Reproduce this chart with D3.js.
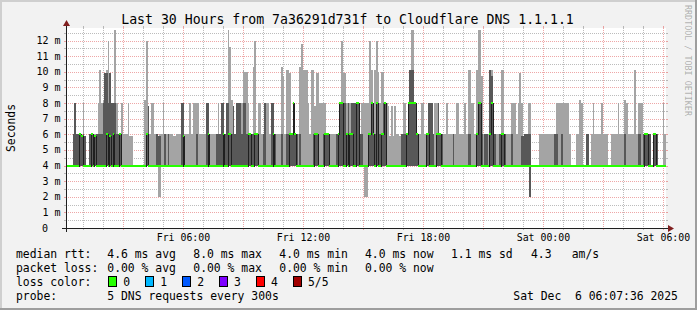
<!DOCTYPE html>
<html>
<head>
<meta charset="utf-8">
<script src="https://cdn.jsdelivr.net/npm/d3@7"></script>
<style>
  html, body { margin: 0; padding: 0; background: #f2f2f2; }
  svg { display: block; }
  text { font-family: "DejaVu Sans Mono", monospace; fill: #000; }
</style>
</head>
<body>
<div id="chart"></div>
<script>
// Five sorted pings per 5 minute step (ms), one row = one hour (12 steps).
const pingMin = [
  4,4,4,4,4,4,4,4,4,4,4,4, 4,4,4,4,4,4,4,4,4,4,4,4, 4,4,4,4,4,4,4,4,4,4,4,4,
  4,4,4,4,4,4,4,4,4,4,4,4, 4,4,4,4,4,4,4,2,2,4,4,4, 4,4,4,4,4,4,4,4,4,4,4,4,
  4,4,4,4,4,4,4,4,4,4,4,4, 4,4,4,4,4,4,4,4,4,4,4,4, 4,4,4,4,4,4,4,4,4,4,4,4,
  4,4,4,4,4,4,4,4,4,4,4,4, 4,4,4,4,4,4,4,4,4,4,4,4, 4,4,4,4,4,4,4,4,4,4,4,4,
  4,4,4,4,4,4,4,4,4,4,4,4, 4,4,4,4,4,4,4,4,4,4,4,4, 4,4,4,4,4,4,4,4,4,4,4,2,
  2,4,4,4,4,4,4,4,4,4,4,4, 4,4,4,4,4,4,4,4,4,4,4,4, 4,4,4,4,4,4,4,4,4,4,4,4,
  4,4,4,4,4,4,4,4,4,4,4,4, 4,4,4,4,4,4,4,4,4,4,4,4, 4,4,4,4,4,4,4,4,4,4,4,4,
  4,4,4,4,4,4,4,4,4,4,4,4, 4,4,4,4,4,4,4,4,4,4,4,4, 4,4,2,4,4,4,4,4,4,4,4,4,
  4,4,4,4,4,4,4,4,4,4,4,4, 4,4,4,4,4,4,4,4,4,4,4,4, 4,4,4,4,4,4,4,4,4,4,4,4,
  4,4,4,4,4,4,4,4,4,4,4,4, 4,4,4,4,4,4,4,4,4,4,4,4, 4,4,4,4,4,4,4,4,4,4,4,4
];
const ping2 = [
  4,4,4,4,4,4,4,4,4,4,4,4, 4,4,4,4,4,4,4,4,4,4,4,4, 4,4,4,4,4,4,4,4,4,4,4,4,
  4,4,4,4,4,4,4,4,4,4,4,4, 4,4,4,4,4,4,4,4,4,4,4,4, 4,4,4,4,4,4,4,4,4,4,4,4,
  4,4,4,4,4,4,4,4,4,4,4,4, 4,4,4,4,4,4,4,4,4,4,4,4, 4,4,4,4,4,4,4,4,4,4,4,4,
  4,4,4,4,4,4,4,4,4,4,4,4, 4,4,4,4,4,4,4,4,4,4,4,4, 4,4,4,4,4,4,4,4,4,4,4,4,
  4,4,4,4,4,4,4,4,4,4,4,4, 4,4,4,4,4,4,4,4,4,4,4,4, 4,4,4,4,4,4,4,4,4,4,4,4,
  4,4,4,4,4,4,4,4,4,4,4,4, 4,4,4,4,4,4,4,4,4,4,4,4, 4,4,4,4,4,4,4,4,4,4,4,4,
  4,4,4,4,4,4,4,4,4,4,4,4, 4,4,4,4,4,4,4,4,4,4,4,4, 4,4,4,4,4,4,4,4,4,4,4,4,
  4,4,4,4,4,4,4,4,4,4,4,4, 4,4,4,4,4,4,4,4,4,4,4,4, 4,4,2,4,4,4,4,4,4,4,4,4,
  4,4,4,4,4,4,4,4,4,4,4,4, 4,4,4,4,4,4,4,4,4,4,4,4, 4,4,4,4,4,4,4,4,4,4,4,4,
  4,4,4,4,4,4,4,4,4,4,4,4, 4,4,4,4,4,4,4,4,4,4,4,4, 4,4,4,4,4,4,4,4,4,4,4,4
];
const pingMedian = [
  4,4,4,4,4,4,4,4,6,5.9,4,4,
  4,4,4,6,4,5.9,4,4,4,4,4,4,
  6,4,5.9,4,6,4,4,4,6,4,4,4,
  4,4,4,4,4,4,4,4,4,4,4,4,
  6,4,4,4,4,4,4,4,4,4,4,4,
  4,4,4,4,4,4,4,4,4,4,5.9,4,
  4,4,4,4,4,4,4,4,4,4,4,4,
  4,6,4,4,4,4,4,4,4,4,6,4,
  4,6,6,4,4,4,4,4,4,4,4,4,
  4,6,6,4,4,6,6,4,4,4,4,4,
  4,4,4,4,6,4,4,4,4,4,4,4,
  4,4,6,6,8,6,4,4,4,4,4,4,
  4,4,4,4,4,6,6,4,4,4,4,6,
  6,6,4,4,4,4,4,6,8,8,4,4,
  6,4,6,6,4,4,8,8,4,4,4,4,
  4,6,6,8,6,4,8,4,4,6,6,8,
  4,4,4,4,4,4,4,4,4,4,4,4,
  6,8,8,8,8,8,6,4,4,4,4,4,
  6,6,4,4,4,4,6,6,6,4,4,4,
  4,4,4,4,4,4,4,4,4,4,4,4,
  4,4,4,4,4,4,6,8,8,4,4,4,
  4,4,6,8,4,4,4,4,4,6,6,4,
  4,4,4,4,4,4,4,4,4,4,4,4,
  4,4,4,4,4,4,4,4,4,4,4,4,
  4,4,4,4,4,4,4,4,4,4,4,4,
  4,4,4,4,4,4,4,4,4,4,4,4,
  4,4,4,4,4,4,4,4,4,4,4,4,
  4,4,4,4,4,4,4,4,4,4,4,4,
  4,4,4,4,4,4,4,4,4,4,4,6,
  6,4,4,4,6,6,4,4,4,4,4,4
];
const ping4 = [
  4,4,4,4,6,8,6,6,6,5.9,6,5.9,
  4,4,6,6,6,5.9,6,6,6,6,8,9.9,
  9.9,8,9.9,8,8,8,6,6,6,4,4,4,
  4,4,4,4,4,4,4,4,4,4,4,4,
  6,7.8,4,4,4,4,6,5.9,5.9,4,4,6,
  4,6,4,4,4,4,4,4,4,8,8,4,
  4,4,4,4,4,4,6,4,4,4,4,4,
  8,8,4,4,4,4,6,6,6,8,8,6,
  8,8,6,6,7.8,6,8,8,8,6,8,8,
  6,6,6,6,6,6,6,4,4,4,6,8,
  4,4,4,8,8,6,4,4,4,6,4,4,
  6,6,6,6,8,6,6,4,6,4,4,4,
  4,4,4,4,6,6,6,6,4,4,6,6,
  6,6,4,4,4,4,6,6,8,8,8,8,
  6,8,6,8,8,8,8,8,6,6,4,4,
  4,6,6,8,8,6,8,6,6,6,8,8,
  4,4,4,4,4,4,4,4,4,6,6,6,
  6,8,10.1,10.1,10.1,8,6,6,4,4,4,4,
  6,8,8,8,6,4,6,8,6,6,4,4,
  4,4,4,4,6,4,4,4,4,4,4,4,
  4,6,6,4,4,4,6,8,8,6,4,6,
  6,4,10.1,9.7,6,6,4,4,6,6,6,6,
  4,4,4,6,4,4,4,4,4,5.9,5.9,6,
  6,6,6,4,4,4,4,4,4,4,4,4,
  4,4,4,4,4,6,6,4,4,6,4,4,
  4,4,4,4,4,4,4,4,4,4,4,4,
  6,6,4,4,4,4,4,4,4,4,4,4,
  4,4,4,4,4,4,4,4,4,4,4,6,
  4,4,4,4,4,4,4,6,6,4,6,6,
  6,6,6,4,6,6,6,4,4,4,4,4
];
const pingMax = [
  4,4,4,4,6,8,6,6,6,5.9,8,5.9,
  4,4,6,6,6,6,6,8,10.1,8,8.2,9.9,
  10.1,12,9.9,8,8,12.7,8,6,6,8,6,6,
  6,8,5.9,5.9,4,4,4,4,4,4,4,8.2,
  12,7.8,6,8,8,6,6,5.9,6,6,8,6,
  6,6,6,6,5.9,5.9,6,6,6,8,8,6,
  6,6,8,6,8,8,8,8,6,6,6,6,
  8,8,6,6,6,6,6,8,6,8,8,6,
  8,12.7,11.6,8.2,7.8,6,8,8,8,8,10.1,10,
  10,8,6,6,10.3,12,6,8,8,6,6,8,
  8,8,6,8,8,6,6,6,6,10.3,9.7,6,
  10.1,10.1,9.9,6,8,6,6,6,10.3,11.8,10.1,10.1,
  10.1,8,6,10.1,10.1,7.8,9.9,9.9,8,8,8,8,
  6,6,6,6,6,6,6,6,8,12,9.9,9.9,
  8,8,8,8,8,8,8,8,6,8,8,8,
  8,8,12,10.1,8,10.1,12,10,8,10,10,8,
  8,7.8,5.9,7.8,5.9,7.8,6,6,5.9,6,8,8,
  6,8,10.1,12.7,12.7,8,6,6,6,8,8,6,
  6,8,8,8,6,8,8,8,6,6,6,6,
  8,6,6,6,6,6,8,8,6,6,6,8,
  6,10.1,10.1,8,8,6,10.1,12.7,12.7,9.7,6,6,
  6,6,10.1,10.1,6,6,6,6,6,10.1,10.1,6,
  6,6,6,8,8,8,6,8,9.9,8,5.9,6,
  6,8,8,4,4,4,4,4,6,6,6,6,
  6,6,6,6,6,6,8,8,8,8,8,8,
  8,8,6,4,4,4,6,6,8.2,8,4,4,
  6,6,4,6,8,6,6,6,6,8,6,6,
  6,4,4,6,6,6,6,8,6,6,6,8.2,
  8,6,6,6,6,10.1,6,8,8,8,6,6,
  6,6,6,4,6,6,6,4,4,4,8,6
];

const yTicks = [0, 1, 2, 3, 4, 5, 6, 7, 8, 9, 10, 11, 12];
const lossLevels = ['0', '1', '2', '3', '4', '5/5'];
const lossColors = ['#26ff00', '#00b8ff', '#0059ff', '#7e00ff', '#ff0000', '#a10000'];

const titleText = 'Last 30 Hours from 7a36291d731f to Cloudflare DNS 1.1.1.1';
const rttLegend = [['median rtt:', 16], ['4.6 ms avg', 107.3], ['8.0 ms max', 193.3],
                   ['4.0 ms min', 279.3], ['4.0 ms now', 365], ['1.1 ms sd', 451],
                   ['4.3', 531], ['am/s', 571.7]];
const lossLegend = [['packet loss:', 16], ['0.00 % avg', 107.3], ['0.00 % max', 193.3],
                    ['0.00 % min', 279.3], ['0.00 % now', 365]];

// Geometry.
const W = 697, H = 310;
const pL = 66, pR = 666, pT = 28, pB = 228;
const t0 = new Date(2025, 11, 5, 0, 7, 36);
const t1 = new Date(2025, 11, 6, 6, 7, 36);
const step = 300 * 1000;

const x = d3.scaleTime().domain([t0, t1]).range([pL, pR]);
const y = d3.scaleLinear().domain([0, 12.8]).range([pB, pT]);

const svg = d3.select('#chart')
  .append('svg')
  .attr('width', W)
  .attr('height', H);

// Background with rrdtool style shading.
svg.append('rect').attr('width', W).attr('height', H).attr('fill', '#f2f2f2');
svg.append('path').attr('d', `M0,0H${W}V2H2V${H}H0Z`).attr('fill', '#cfcfcf');
svg.append('path').attr('d', `M${W},${H}H0V${H - 2}H${W - 2}V0H${W}Z`).attr('fill', '#9e9e9e');

// Canvas.
svg.append('rect')
  .attr('x', pL).attr('y', pT)
  .attr('width', pR - pL).attr('height', pB - pT)
  .attr('fill', '#fff');

// Grid.
const grid = svg.append('g').attr('shape-rendering', 'crispEdges');
const minorCol = 'rgba(143,143,143,0.6)', majorCol = 'rgba(222,79,79,0.5)';

const halfSteps = d3.range(0.5, 12.8, 1);
halfSteps.forEach(v => {
  const yy = Math.round(y(v)) + 0.5;
  grid.append('line').attr('x1', pL).attr('x2', pR).attr('y1', yy).attr('y2', yy)
    .attr('stroke', minorCol).attr('stroke-dasharray', '1,1');
  grid.append('line').attr('x1', pL - 2).attr('x2', pL).attr('y1', yy).attr('y2', yy).attr('stroke', minorCol);
  grid.append('line').attr('x1', pR).attr('x2', pR + 2).attr('y1', yy).attr('y2', yy).attr('stroke', minorCol);
});
yTicks.filter(v => v > 0).forEach(v => {
  const yy = Math.round(y(v)) + 0.5;
  grid.append('line').attr('x1', pL).attr('x2', pR).attr('y1', yy).attr('y2', yy)
    .attr('stroke', majorCol).attr('stroke-dasharray', '1,1');
  grid.append('line').attr('x1', pL - 2).attr('x2', pL).attr('y1', yy).attr('y2', yy).attr('stroke', majorCol);
  grid.append('line').attr('x1', pR).attr('x2', pR + 2).attr('y1', yy).attr('y2', yy).attr('stroke', majorCol);
});

const hours = d3.timeHour.range(t0, t1);
hours.forEach(h => {
  const xx = Math.round(x(h)) + 0.5;
  const col = h.getHours() % 3 === 0 ? majorCol : minorCol;
  grid.append('line').attr('x1', xx).attr('x2', xx).attr('y1', pT).attr('y2', pB)
    .attr('stroke', col).attr('stroke-dasharray', '1,1');
  grid.append('line').attr('x1', xx).attr('x2', xx).attr('y1', pT - 2).attr('y2', pT).attr('stroke', col);
  grid.append('line').attr('x1', xx).attr('x2', xx).attr('y1', pB).attr('y2', pB + 2).attr('stroke', col);
});

// Smoke and median.
const bins = pingMedian.map((m, i) => ({
  x0: Math.round(x(new Date(+t0 + i * step))),
  x1: Math.round(x(new Date(+t0 + (i + 1) * step))),
  p1: pingMin[i], p2: ping2[i], p3: m, p4: ping4[i], p5: pingMax[i]
}));

const plot = svg.append('g').attr('shape-rendering', 'crispEdges');

plot.selectAll('.smoke1')
  .data(bins.filter(d => d.p5 > d.p1))
  .join('rect')
    .attr('class', 'smoke1')
    .attr('x', d => d.x0)
    .attr('width', d => d.x1 - d.x0)
    .attr('y', d => Math.round(y(d.p5)))
    .attr('height', d => Math.round(y(d.p1)) - Math.round(y(d.p5)))
    .attr('fill', '#a4a4a4');

plot.selectAll('.smoke2')
  .data(bins.filter(d => d.p4 > d.p2))
  .join('rect')
    .attr('class', 'smoke2')
    .attr('x', d => d.x0)
    .attr('width', d => d.x1 - d.x0)
    .attr('y', d => Math.round(y(d.p4)))
    .attr('height', d => Math.round(y(d.p2)) - Math.round(y(d.p4)))
    .attr('fill', '#585858');

// Median line (steps), then the loss coloured median bars on top.
const stepPts = bins.map(d => [d.x0, Math.round(y(d.p3)) + 0.5]);
stepPts.push([bins[bins.length - 1].x1, stepPts[stepPts.length - 1][1]]);
plot.append('path')
  .attr('d', d3.line().curve(d3.curveStepAfter)(stepPts))
  .attr('fill', 'none')
  .attr('stroke', '#202020')
  .attr('stroke-width', 1);

plot.selectAll('.median')
  .data(bins)
  .join('rect')
    .attr('class', 'median')
    .attr('x', d => d.x0)
    .attr('width', d => d.x1 - d.x0)
    .attr('y', d => Math.round(y(d.p3)) - 1)
    .attr('height', 2)
    .attr('fill', lossColors[0]);

// Axes with arrows.
const axisG = svg.append('g').attr('shape-rendering', 'crispEdges');
axisG.append('line').attr('x1', pL - 4).attr('x2', pR + 4)
  .attr('y1', pB + 0.5).attr('y2', pB + 0.5).attr('stroke', '#1f1f1f');
axisG.append('line').attr('x1', pL + 0.5).attr('x2', pL + 0.5)
  .attr('y1', pB + 4).attr('y2', pT - 4).attr('stroke', '#1f1f1f');
svg.append('path')
  .attr('d', `M${pR + 2},${pB - 3}L${pR + 2},${pB + 4}L${pR + 8},${pB + 0.5}Z`)
  .attr('fill', '#801f1f');
svg.append('path')
  .attr('d', `M${pL - 3},${pT - 2}L${pL + 4},${pT - 2}L${pL + 0.5},${pT - 8}Z`)
  .attr('fill', '#801f1f');

// Y labels.
svg.append('g').selectAll('text')
  .data(yTicks)
  .join('text')
    .attr('x', d => d === 0 ? 48 : 60.5)
    .attr('y', d => y(d) + 3.6)
    .attr('text-anchor', 'end')
    .attr('font-size', '10px')
    .text(d => d === 0 ? '0' : `${d} m`);

// X labels.
svg.append('g').selectAll('text')
  .data(hours.filter(h => h.getHours() % 6 === 0))
  .join('text')
    .attr('x', d => x(d))
    .attr('y', 241)
    .attr('text-anchor', 'middle')
    .attr('font-size', '9.9px')
    .text(d => d3.timeFormat('%a %H:%M')(d));

// Title and vertical labels.
svg.append('text')
  .attr('x', 347.5).attr('y', 24)
  .attr('text-anchor', 'middle')
  .attr('font-size', '13.2px')
  .text(titleText);

svg.append('text')
  .attr('transform', 'translate(15,128) rotate(-90)')
  .attr('text-anchor', 'middle')
  .attr('font-size', '11.4px')
  .text('Seconds');

svg.append('text')
  .attr('transform', 'translate(685,5) rotate(90)')
  .attr('font-size', '8.4px')
  .style('fill', 'rgba(0,0,0,0.3)')
  .text('RRDTOOL / TOBI OETIKER');

// Legend.
const legend = svg.append('g').attr('font-size', '11.4px');
rttLegend.forEach(([t, lx]) => legend.append('text').attr('x', lx).attr('y', 258).text(t));
lossLegend.forEach(([t, lx]) => legend.append('text').attr('x', lx).attr('y', 272).text(t));

legend.append('text').attr('x', 16).attr('y', 286).text('loss color:');
const boxX = [108.3, 145.3, 182.3, 219, 256, 293];
lossLevels.forEach((lv, i) => {
  legend.append('rect')
    .attr('x', Math.round(boxX[i]) + 0.5).attr('y', 276.5)
    .attr('width', 8).attr('height', 10)
    .attr('fill', lossColors[i]).attr('stroke', '#000')
    .attr('shape-rendering', 'crispEdges');
  legend.append('text').attr('x', boxX[i] + 15).attr('y', 286).text(lv);
});

legend.append('text').attr('x', 16).attr('y', 300).text('probe:');
legend.append('text').attr('x', 107.3).attr('y', 300).text('5 DNS requests every 300s');
legend.append('text').attr('x', 513.3).attr('y', 300).text('Sat Dec  6 06:07:36 2025').style('white-space', 'pre');
</script>
</body>
</html>
